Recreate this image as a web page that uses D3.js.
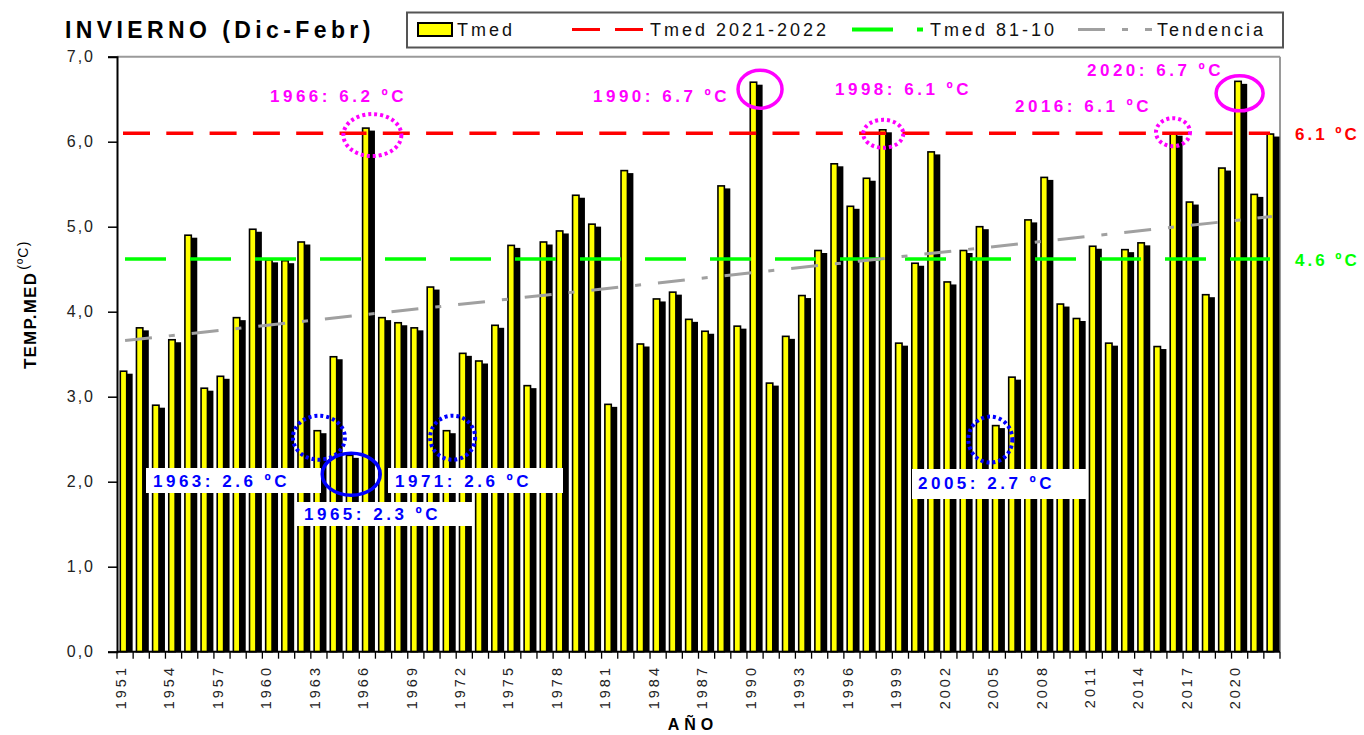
<!DOCTYPE html>
<html>
<head>
<meta charset="utf-8">
<script src="https://cdn.jsdelivr.net/npm/d3@7"></script>
<style>
  html, body { margin: 0; padding: 0; background: #fff; }
  svg { display: block; font-family: "Liberation Sans", Arial, sans-serif; }
</style>
</head>
<body>
<svg id="chart" width="1364" height="735"></svg>
<script>
// ---------- DATA ----------
const years = [1951,1952,1953,1954,1955,1956,1957,1958,1959,1960,
  1961,1962,1963,1964,1965,1966,1967,1968,1969,1970,
  1971,1972,1973,1974,1975,1976,1977,1978,1979,1980,
  1981,1982,1983,1984,1985,1986,1987,1988,1989,1990,
  1991,1992,1993,1994,1995,1996,1997,1998,1999,2000,
  2001,2002,2003,2004,2005,2006,2007,2008,2009,2010,
  2011,2012,2013,2014,2015,2016,2017,2018,2019,2020,
  2021,2022];
const tmed = [3.30,3.81,2.90,3.67,4.90,3.10,3.24,3.93,4.97,4.61,
  4.60,4.82,2.60,3.47,2.31,6.16,3.93,3.87,3.81,4.29,
  2.60,3.51,3.42,3.84,4.78,3.13,4.82,4.95,5.37,5.03,
  2.91,5.66,3.62,4.15,4.23,3.91,3.77,5.48,3.83,6.70,
  3.16,3.71,4.19,4.72,5.74,5.24,5.57,6.14,3.63,4.57,
  5.88,4.35,4.72,5.00,2.66,3.23,5.08,5.58,4.09,3.92,
  4.77,3.63,4.73,4.81,3.59,6.10,5.29,4.20,5.69,6.71,
  5.38,6.09];
const tmedRecent = 6.1;      // Tmed 2021-2022
const tmedNormal = 4.62;     // Tmed 81-10
const trendYears = [1951, 2022];
const trendValues = [3.66, 5.12];
const yTicks = [0,1,2,3,4,5,6,7];
const xLabelYears = [1951,1954,1957,1960,1963,1966,1969,1972,1975,1978,1981,1984,1987,1990,1993,1996,1999,2002,2005,2008,2011,2014,2017,2020];
const maxNotes = [
  {year:1966, label:"1966: 6.2 ºC", style:"dot"},
  {year:1990, label:"1990: 6.7 ºC", style:"solid"},
  {year:1998, label:"1998: 6.1 ºC", style:"dot"},
  {year:2016, label:"2016: 6.1 ºC", style:"dot"},
  {year:2020, label:"2020: 6.7 ºC", style:"solid"}
];
const minNotes = [
  {year:1963, label:"1963: 2.6 ºC", style:"dot"},
  {year:1965, label:"1965: 2.3 ºC", style:"solid"},
  {year:1971, label:"1971: 2.6 ºC", style:"dot"},
  {year:2005, label:"2005: 2.7 ºC", style:"dot"}
];
const legendLabels = ["Tmed", "Tmed 2021-2022", "Tmed 81-10", "Tendencia"];

// ---------- LAYOUT ----------
const svg = d3.select("#chart");
const L = 117, R = 1280, T = 56.7, B = 651.7;
const x = d3.scaleBand().domain(years).range([L, R]).padding(0);
const y = d3.scaleLinear().domain([0, 7]).range([B, T]);
const bw = x.bandwidth();

svg.append("rect").attr("width",1364).attr("height",735).attr("fill","#fff");

// plot frame (gray top & right)
svg.append("line").attr("x1",L).attr("x2",R).attr("y1",T).attr("y2",T).attr("stroke","#9a9a9a").attr("stroke-width",2);
svg.append("line").attr("x1",R).attr("x2",R).attr("y1",T).attr("y2",B).attr("stroke","#9a9a9a").attr("stroke-width",2);

// ---------- BARS ----------
const bars = svg.append("g");
bars.selectAll("rect.sh").data(years).join("rect")
  .attr("class","sh")
  .attr("x", d => x(d) + 6)
  .attr("width", bw - 6.5)
  .attr("y", (d,i) => y(tmed[i]) + 2.5)
  .attr("height", (d,i) => B - y(tmed[i]) - 2.5)
  .attr("fill", "#000");
bars.selectAll("rect.yb").data(years).join("rect")
  .attr("class","yb")
  .attr("x", d => x(d) + 3.3)
  .attr("width", 6.4)
  .attr("y", (d,i) => y(tmed[i]))
  .attr("height", (d,i) => B - y(tmed[i]))
  .attr("fill", "#ffff00")
  .attr("stroke", "#000")
  .attr("stroke-width", 1.6);

// ---------- REFERENCE LINES ----------
const lineX0 = x(years[0]) + 6, lineX1 = x(years[years.length-1]) + bw - 10;
svg.append("line").attr("x1", lineX0 + 2).attr("x2", lineX1)
  .attr("y1", y(tmedNormal)).attr("y2", y(tmedNormal))
  .attr("stroke", "#00ff00").attr("stroke-width", 3.5).attr("stroke-dasharray", "41,24");
svg.append("line").attr("x1", lineX0).attr("x2", lineX1)
  .attr("y1", y(tmedRecent)).attr("y2", y(tmedRecent))
  .attr("stroke", "#ff0000").attr("stroke-width", 3.5).attr("stroke-dasharray", "27,16.3");
svg.append("line")
  .attr("x1", x(trendYears[0]) + bw/2).attr("x2", x(trendYears[1]) + bw/2)
  .attr("y1", y(trendValues[0])).attr("y2", y(trendValues[1]))
  .attr("stroke", "#a0a0a0").attr("stroke-width", 3).attr("stroke-dasharray", "27,17,6,17");

// ---------- AXES ----------
const yAxis = d3.axisLeft(y).tickValues(yTicks).tickSize(9).tickPadding(13)
  .tickFormat(d => d3.format(".1f")(d).replace(".", ","));
const gy = svg.append("g").attr("transform", `translate(${L},0)`).call(yAxis);
gy.select(".domain").attr("stroke","#000").attr("stroke-width",2);
gy.selectAll(".tick line").attr("stroke","#000").attr("stroke-width",1.5);
gy.selectAll(".tick text").attr("font-size",16).attr("letter-spacing","2px").attr("fill","#222")
  .attr("font-family","Liberation Sans, Arial, sans-serif");

// bottom axis line + edge ticks
svg.append("line").attr("x1",L).attr("x2",R).attr("y1",B).attr("y2",B).attr("stroke","#000").attr("stroke-width",2);
const edges = years.map(d => x(d)).concat([R]);
svg.append("g").selectAll("line").data(edges).join("line")
  .attr("x1", d => d).attr("x2", d => d).attr("y1", B).attr("y2", B + 7)
  .attr("stroke", "#000").attr("stroke-width", 1.3);

svg.append("g").selectAll("text").data(xLabelYears).join("text")
  .attr("transform", d => `translate(${x(d) + bw/2 - 4.5},665) rotate(-90)`)
  .attr("text-anchor","end").attr("dy","0.36em")
  .attr("font-size",14.5).attr("letter-spacing","3px").attr("fill","#222")
  .text(d => d);

svg.append("text").attr("x",693).attr("y",730).attr("text-anchor","middle")
  .attr("font-size",16).attr("font-weight","bold").attr("letter-spacing","5px")
  .text("AÑO");

const yt = svg.append("text").attr("transform","translate(36,369) rotate(-90)")
  .attr("font-weight","bold").attr("font-size",17).attr("letter-spacing","1.2px").attr("fill","#000");
yt.append("tspan").text("TEMP.MED");
yt.append("tspan").attr("font-size",14).attr("font-weight","normal").attr("dy","-8").attr("dx","2").text("(ºC)");

// ---------- TITLE ----------
svg.append("text").attr("x",65).attr("y",38).attr("font-size",23).attr("font-weight","bold")
  .attr("letter-spacing","4.4px").text("INVIERNO (Dic-Febr)");

// ---------- LEGEND ----------
const lg = svg.append("g");
lg.append("rect").attr("x",407).attr("y",12.5).attr("width",876).attr("height",35)
  .attr("fill","#fff").attr("stroke","#555").attr("stroke-width",2);
const ly = 29.5;
lg.append("rect").attr("x",418).attr("y",23).attr("width",34).attr("height",13)
  .attr("fill","#ffff00").attr("stroke","#000").attr("stroke-width",2);
lg.append("line").attr("x1",572).attr("x2",643).attr("y1",ly).attr("y2",ly)
  .attr("stroke","#ff0000").attr("stroke-width",3).attr("stroke-dasharray","28,15");
lg.append("line").attr("x1",852).attr("x2",923).attr("y1",ly).attr("y2",ly)
  .attr("stroke","#00ff00").attr("stroke-width",4).attr("stroke-dasharray","41,24");
lg.append("line").attr("x1",1078).attr("x2",1152).attr("y1",ly).attr("y2",ly)
  .attr("stroke","#a0a0a0").attr("stroke-width",3).attr("stroke-dasharray","27,17,6,17");
const legX = [457, 650, 930, 1157];
lg.selectAll("text").data(legendLabels).join("text")
  .attr("x", (d,i) => legX[i]).attr("y", 36)
  .attr("font-size",18).attr("letter-spacing","3px").attr("fill","#111")
  .text(d => d);

// ---------- ANNOTATIONS ----------
const noteG = svg.append("g");
// label position, and ellipse [rx, ry, dx, dy] relative to the bar top
const maxPos = {1966:[270,101.5],1990:[593,101.5],1998:[835,95],2016:[1015,111.5],2020:[1087,75.5]};
const maxEll = {1966:[29,21,5,7],1990:[22,19,5,7],1998:[20,14,-1,4],2016:[17,14,-2,-1],2020:[23.5,17.5,0,12]};
maxNotes.forEach(n => {
  const i = years.indexOf(n.year);
  const e = maxEll[n.year];
  const cx = x(n.year) + bw/2 + e[2], cy = y(tmed[i]) + e[3];
  noteG.append("ellipse").attr("cx",cx).attr("cy",cy).attr("rx",e[0]).attr("ry",e[1])
    .attr("fill","none").attr("stroke","#ff00ff")
    .attr("stroke-width", n.style === "dot" ? 4 : 3.5)
    .attr("stroke-dasharray", n.style === "dot" ? "3,3" : null);
  noteG.append("text").attr("x",maxPos[n.year][0]).attr("y",maxPos[n.year][1])
    .attr("font-size",17).attr("font-weight","bold").attr("letter-spacing","3.5px")
    .attr("fill","#ff00ff").text(n.label);
});
const minBox = {1963:[146,468,175,25],1965:[297,502,176,24],1971:[388,468,175,25],2005:[912,469,175,30]};
const minText = {1963:[153,487],1965:[304,520],1971:[395,487],2005:[918,489]};
const minEll = {1963:[26,22,0,7],1965:[29,21,0,19],1971:[22.5,22,4.5,7],2005:[22,23,-7,14]};
minNotes.forEach(n => {
  const b = minBox[n.year];
  noteG.append("rect").attr("x",b[0]).attr("y",b[1]).attr("width",b[2]).attr("height",b[3]).attr("fill","#fff");
});
minNotes.forEach(n => {
  const i = years.indexOf(n.year);
  const e = minEll[n.year];
  const cx = x(n.year) + bw/2 + e[2], cy = y(tmed[i]) + e[3];
  noteG.append("ellipse").attr("cx",cx).attr("cy",cy).attr("rx",e[0]).attr("ry",e[1])
    .attr("fill","none").attr("stroke","#0000ff")
    .attr("stroke-width", n.style === "dot" ? 4 : 3.5)
    .attr("stroke-dasharray", n.style === "dot" ? "3,3" : null);
  const t = minText[n.year];
  noteG.append("text").attr("x",t[0]).attr("y",t[1])
    .attr("font-size",17).attr("font-weight","bold").attr("letter-spacing","3.5px")
    .attr("fill","#0000ff").text(n.label);
});

// right-side value labels
svg.append("text").attr("x",1295).attr("y",y(tmedRecent) + 7).attr("font-size",17).attr("font-weight","bold")
  .attr("letter-spacing","3px").attr("fill","#ff0000").text(d3.format(".1f")(tmedRecent) + " ºC");
svg.append("text").attr("x",1295).attr("y",y(tmedNormal) + 7).attr("font-size",17).attr("font-weight","bold")
  .attr("letter-spacing","3px").attr("fill","#00ff00").text(d3.format(".1f")(tmedNormal) + " ºC");
</script>
</body>
</html>
